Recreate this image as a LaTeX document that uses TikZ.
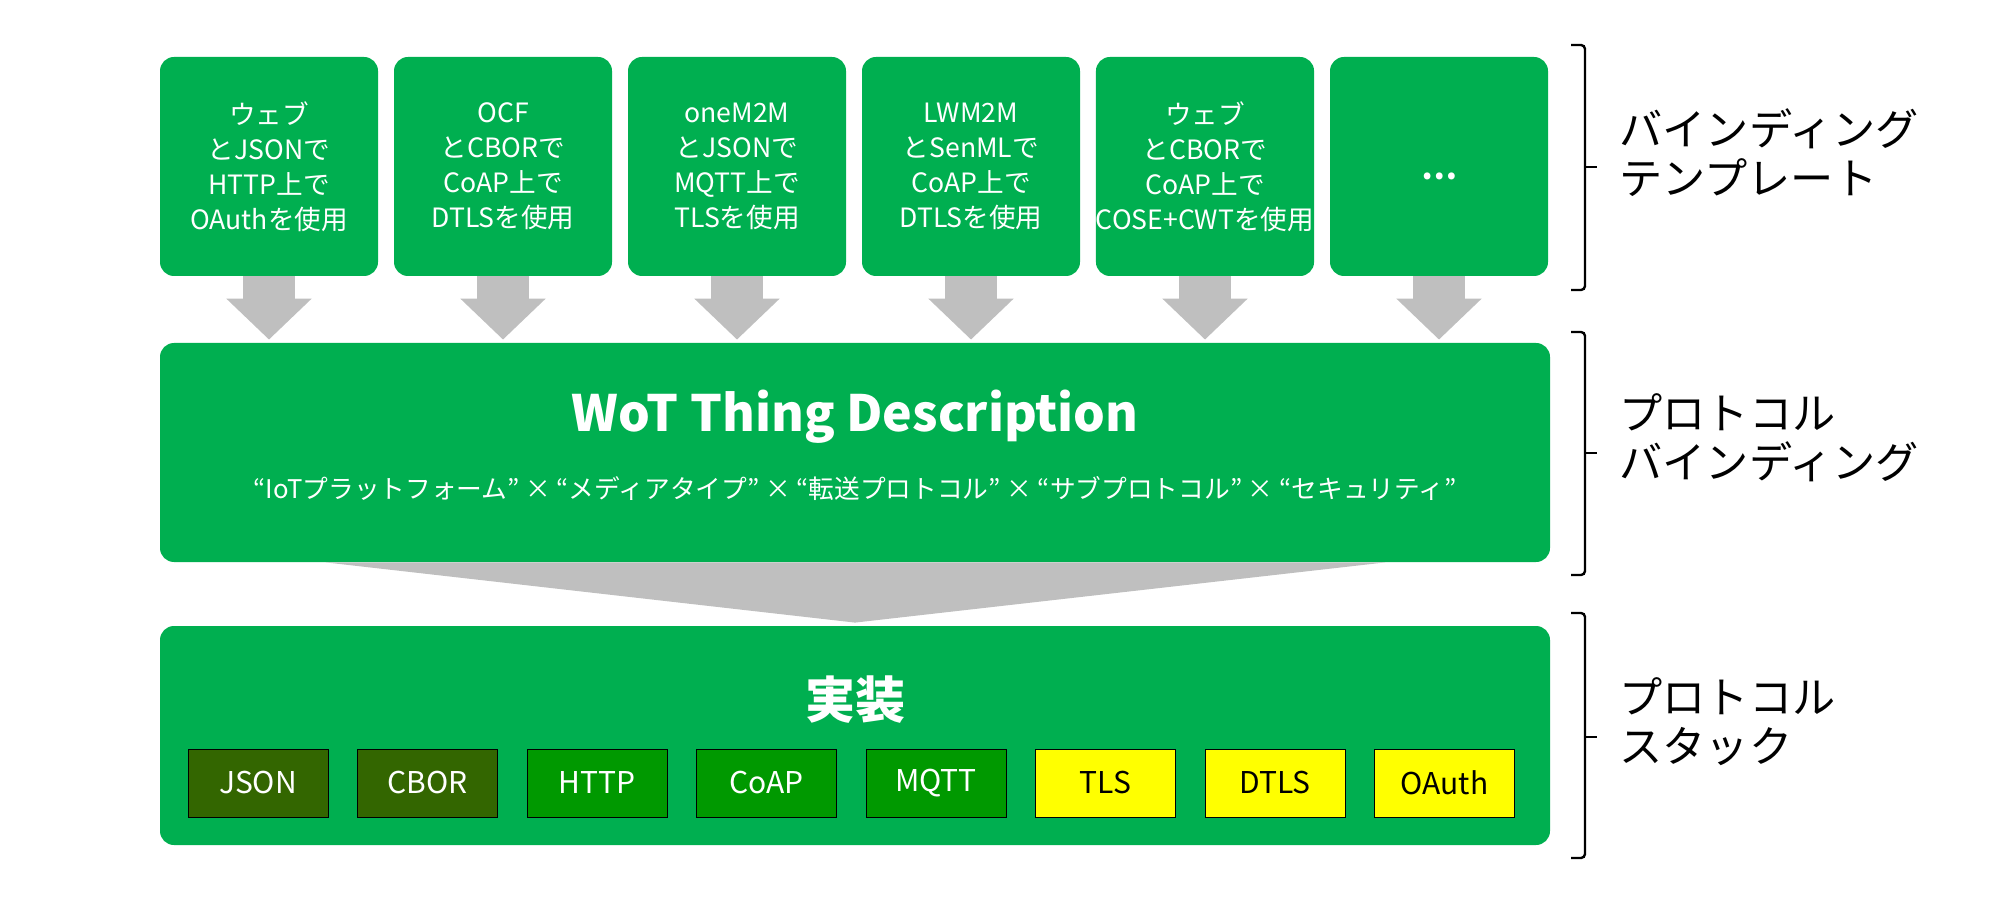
\documentclass[tikz,border=0pt]{standalone}
\usepackage{fontspec}
\setmainfont{Noto Sans CJK JP}
\usetikzlibrary{arrows.meta, positioning, calc}
\definecolor{wotgreen}{HTML}{00AF50}
\definecolor{arrowgray}{HTML}{BFBFBF}
\definecolor{dataolive}{HTML}{336600}
\definecolor{protogreen}{HTML}{009900}
\definecolor{secyellow}{HTML}{FFFF00}

\begin{document}
\begin{tikzpicture}[x=0.5pt, y=-0.5pt,
		tmpl/.style={rectangle, rounded corners=7pt, fill=wotgreen,
			minimum width=109pt, minimum height=109.5pt, inner sep=0pt,
			align=center, text=white, font=\fontsize{13.3}{17.5}\selectfont},
		layer/.style={rectangle, rounded corners=7pt, fill=wotgreen,
			minimum width=695pt, minimum height=109.5pt, inner sep=0pt},
		headline/.style={text=white, font=\fontsize{25}{30}\selectfont\bfseries},
		tech/.style={rectangle, draw=black, line width=0.4pt,
			minimum width=70pt, minimum height=34pt, inner sep=0pt,
			font=\fontsize{15}{18}\selectfont},
		down/.style={arrowgray, line width=26pt,
			-{Triangle[width=41.5pt, length=20.5pt]}, shorten >=1.5pt},
		brk/.style={line width=1.2pt, rounded corners=2pt},
		side/.style={anchor=west, align=left, inner sep=0pt,
			font=\fontsize{21.6}{24.5}\selectfont}
		]
		\useasboundingbox (0,0) rectangle (2002,903);
		
		% Templates
		\foreach \txt [count=\i] in {{ウェブ\\とJSONで\\HTTP上で\\OAuthを使用},
			{OCF\\とCBORで\\CoAP上で\\DTLSを使用},
			{oneM2M\\とJSONで\\MQTT上で\\TLSを使用},
			{LWM2M\\とSenMLで\\CoAP上で\\DTLSを使用},
			{ウェブ\\とCBORで\\CoAP上で\\COSE+CWTを使用},
			{\raisebox{-13pt}{\fontsize{16}{18}\selectfont\bfseries …}}}
		\node[tmpl] (t\i) at ({269+234*(\i-1)}, 166.5) {\txt};
		
		% Thing Description
		\node[layer] (td) at (855, 452.5) {};
		\node[headline] (tdtitle) at ([yshift=17.75pt]td.center) {WoT Thing Description};
		\node[text=white, font=\fontsize{12.85}{15}\selectfont] (tdsub) at ([yshift=-18.25pt]td.center)
		{“IoTプラットフォーム” × “メディアタイプ” × “転送プロトコル” × “サブプロトコル” × “セキュリティ”};
		
		% Implementation
		\node[layer] (impl) at (855, 735.5) {};
		\node[headline] (impltitle) at ([yshift=17.75pt]impl.center) {実装};
		\foreach \name/\col/\tcol [count=\i] in {JSON/dataolive/white, CBOR/dataolive/white,
			HTTP/protogreen/white, CoAP/protogreen/white, MQTT/protogreen/white,
			TLS/secyellow/black, DTLS/secyellow/black, OAuth/secyellow/black}
		\node[tech, fill=\col, text=\tcol] (p\i) at ({258+169.5*(\i-1)}, 783) {\name};
		
		% Arrows
		\foreach \i in {1,...,6}
		\draw[down] (t\i.south) -- (t\i.south |- td.north);
		\fill[arrowgray] ([xshift=83pt]td.south west) -- ([xshift=-82.5pt]td.south east)
		-- ([yshift=1.5pt]impl.north) -- cycle;
		
		% Brackets
		\draw[brk] (1571,45) -- (1585,45) -- (1585,290) -- (1571,290);
		\draw[brk] (1585,167) -- (1597,167);
		\draw[brk] (1571,332) -- (1585,332) -- (1585,575) -- (1571,575);
		\draw[brk] (1585,453) -- (1597,453);
		\draw[brk] (1571,613) -- (1585,613) -- (1585,858) -- (1571,858);
		\draw[brk] (1585,737) -- (1597,737);
		
		\node[side] (lbl1) at (1619,153) {バインディング\\テンプレート};
		\node[side] (lbl2) at (1619,438) {プロトコル\\バインディング};
		\node[side] (lbl3) at (1619,722) {プロトコル\\スタック};
	\end{tikzpicture}
\end{document}
